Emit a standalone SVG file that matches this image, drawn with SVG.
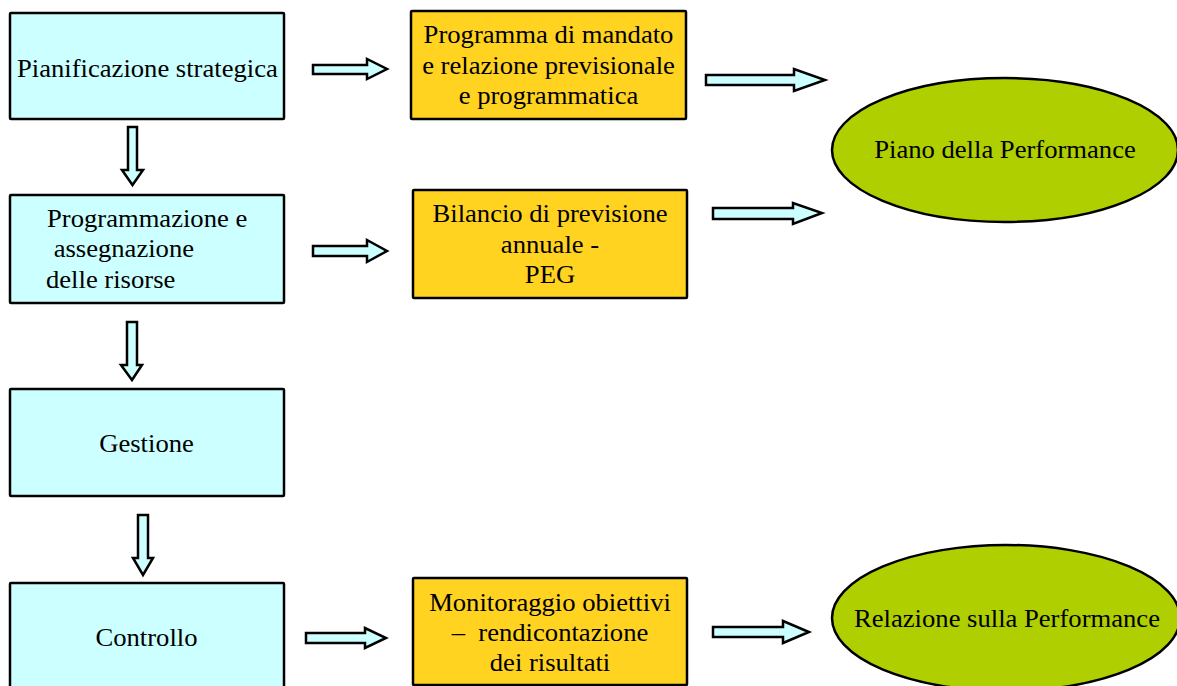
<svg xmlns="http://www.w3.org/2000/svg" width="1177" height="686" viewBox="0 0 1177 686">
<style>
.step{fill:#CCFFFF;stroke:#000;stroke-width:2.5}
.doc{fill:#FFD320;stroke:#000;stroke-width:2.5}
.out{fill:#AFCF00;stroke:#000;stroke-width:2.5}
.arr{fill:#CCFFFF;stroke:#000;stroke-width:2.5;stroke-linejoin:miter}
text{font-family:"Liberation Serif","Times New Roman",serif;font-size:25px;fill:#000}
.c{text-anchor:middle}
</style>
<rect width="1177" height="686" fill="#fff"/>
<g id="pianificazione">
<rect class="step" x="10" y="13" width="274" height="106" rx="1"/>
<text transform="translate(17,77) scale(1.065,1)">Pianificazione strategica</text>
</g>
<g id="programmazione">
<rect class="step" x="10" y="195" width="274" height="108" rx="1"/>
<text transform="translate(47,227) scale(1.065,1)">Programmazione e</text>
<text transform="translate(47,257) scale(1.065,1)" xml:space="preserve"> assegnazione</text>
<text transform="translate(46,288) scale(1.065,1)">delle risorse</text>
</g>
<g id="gestione">
<rect class="step" x="10" y="389" width="274" height="107" rx="1"/>
<text class="c" transform="translate(146.5,452) scale(1.065,1)">Gestione</text>
</g>
<g id="controllo">
<rect class="step" x="10" y="583" width="274" height="110" rx="1"/>
<text class="c" transform="translate(146.5,646) scale(1.065,1)">Controllo</text>
</g>
<g id="programma-mandato">
<rect class="doc" x="411" y="11" width="275" height="108" rx="1"/>
<text class="c" transform="translate(548.5,43) scale(1.065,1)">Programma di mandato</text>
<text class="c" transform="translate(548.5,74) scale(1.065,1)">e relazione previsionale</text>
<text class="c" transform="translate(548.5,104) scale(1.065,1)">e programmatica</text>
</g>
<g id="bilancio">
<rect class="doc" x="413" y="190" width="274" height="108" rx="1"/>
<text class="c" transform="translate(550,222) scale(1.065,1)">Bilancio di previsione</text>
<text class="c" transform="translate(550,253) scale(1.065,1)">annuale -</text>
<text class="c" transform="translate(550,283) scale(1.065,1)">PEG</text>
</g>
<g id="monitoraggio">
<rect class="doc" x="413" y="578" width="274" height="107" rx="1"/>
<text class="c" transform="translate(550,611) scale(1.065,1)">Monitoraggio obiettivi</text>
<text class="c" transform="translate(550,641) scale(1.065,1)" xml:space="preserve">–  rendicontazione</text>
<text class="c" transform="translate(550,671) scale(1.065,1)">dei risultati</text>
</g>
<g id="piano">
<ellipse class="out" cx="1005" cy="150" rx="173" ry="72"/>
<text class="c" transform="translate(1005,158) scale(1.065,1)">Piano della Performance</text>
</g>
<g id="relazione">
<ellipse class="out" cx="1006" cy="618" rx="174" ry="73"/>
<text class="c" transform="translate(1007,627) scale(1.065,1)">Relazione sulla Performance</text>
</g>
<g id="connectors">
<polygon class="arr" points="128,127 137,127 137,170 143,170 132.5,185 122,170 128,170"/>
<polygon class="arr" points="127,322 137,322 137,365 142,365 132,380 121,365 127,365"/>
<polygon class="arr" points="138,515 148,515 148,558 153,558 143,575 133,558 138,558"/>
<polygon class="arr" points="313,65 367,65 367,59 387,69 367,79 367,74 313,74"/>
<polygon class="arr" points="313,246 367,246 367,240 387,251 367,262 367,256 313,256"/>
<polygon class="arr" points="306,633 365,633 365,628 386,638 365,648 365,643 306,643"/>
<polygon class="arr" points="706,75 794,75 794,69 825,80 794,91 794,85 706,85"/>
<polygon class="arr" points="713,208 793,208 793,203 822,213 793,224 793,219 713,219"/>
<polygon class="arr" points="713,627 783,627 783,621 809,632 783,643 783,637 713,637"/>
</g>
</svg>
